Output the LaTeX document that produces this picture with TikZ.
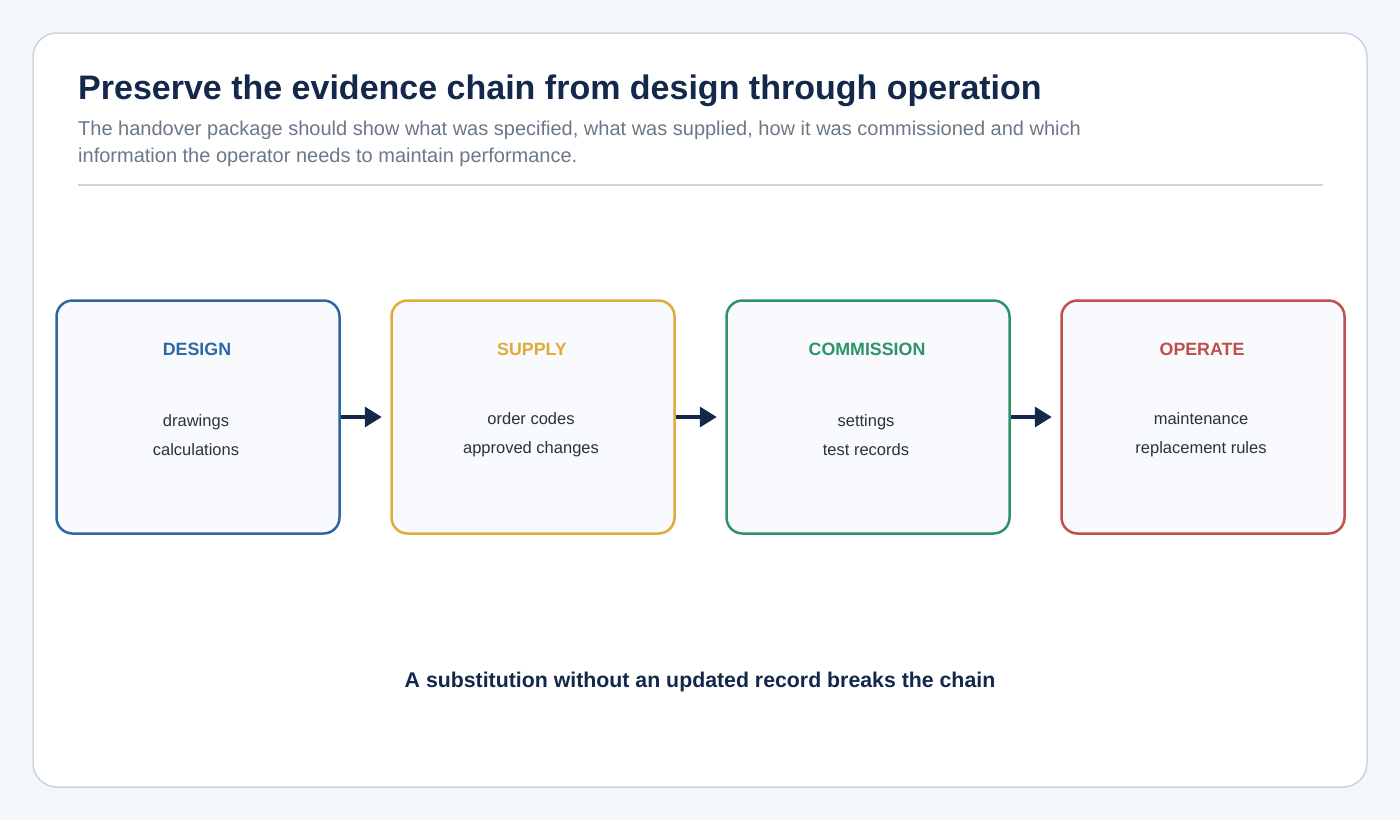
\documentclass[tikz,border=0pt]{standalone}
\usepackage{fontspec}
\setmainfont{Liberation Sans}
\usetikzlibrary{arrows.meta}
\definecolor{pagebg}{HTML}{F3F6FA}
\definecolor{cardline}{HTML}{CBD5E1}
\definecolor{navy}{HTML}{14284B}
\definecolor{greytxt}{HTML}{6B7888}
\definecolor{bodytxt}{HTML}{2A3240}
\definecolor{boxfill}{HTML}{F8FAFD}
\definecolor{cdesign}{HTML}{2E67A6}
\definecolor{csupply}{HTML}{E2A93B}
\definecolor{ccommission}{HTML}{2E9468}
\definecolor{coperate}{HTML}{C0504D}
\tikzset{
  stage/.style={draw=#1, line width=2.5pt, fill=boxfill, rounded corners=16pt, minimum width=283pt, minimum height=233pt, inner sep=0pt},
  stagetitle/.style={text=#1, font=\fontsize{17.8}{20}\selectfont\bfseries},
  items/.style={text=bodytxt, font=\fontsize{16.5}{29}\selectfont, align=center},
  flow/.style={-{Triangle[length=17pt,width=20pt]}, line width=3.5pt, draw=navy}
}
\begin{document}
\begin{tikzpicture}[x=1pt,y=-1pt]
\fill[pagebg] (0,0) rectangle (1400,820);
\draw[cardline, line width=1.5pt, fill=white, rounded corners=24pt] (33,33) rectangle (1367,787);
\node[anchor=base west, text=navy, font=\fontsize{34}{40}\selectfont\bfseries, inner sep=0pt] (title) at (78,99) {Preserve the evidence chain from design through operation};
\node[anchor=base west, text=greytxt, font=\fontsize{20}{27}\selectfont, align=left, inner sep=0pt] (sub) at (78,162) {The handover package should show what was specified, what was supplied, how it was commissioned and which\\information the operator needs to maintain performance.};
\draw[cardline, line width=1.5pt] (78,185) -- (1323,185);
% stages
\node[stage=cdesign] (design) at (198,417) {};
\node[stage=csupply] (supply) at (533,417) {};
\node[stage=ccommission] (commission) at (868,417) {};
\node[stage=coperate] (operate) at (1203,417) {};
\node[stagetitle=cdesign] (t1) at (197,349) {DESIGN};
\node[stagetitle=csupply] (t2) at (532,349) {SUPPLY};
\node[stagetitle=ccommission] (t3) at (867,349) {COMMISSION};
\node[stagetitle=coperate] (t4) at (1202,349) {OPERATE};
\node[items] (i1) at (196,435) {drawings\\calculations};
\node[items] (i2) at (531,435) {order codes\\approved changes};
\node[items] (i3) at (866,435) {settings\\test records};
\node[items] (i4) at (1201,435) {maintenance\\replacement rules};
\draw[flow] (design.east) -- ++(41,0);
\draw[flow] (supply.east) -- ++(41,0);
\draw[flow] (commission.east) -- ++(41,0);
\node[text=navy, font=\fontsize{21.3}{24}\selectfont\bfseries] (note) at (700,682) {A substitution without an updated record breaks the chain};
\end{tikzpicture}
\end{document}
